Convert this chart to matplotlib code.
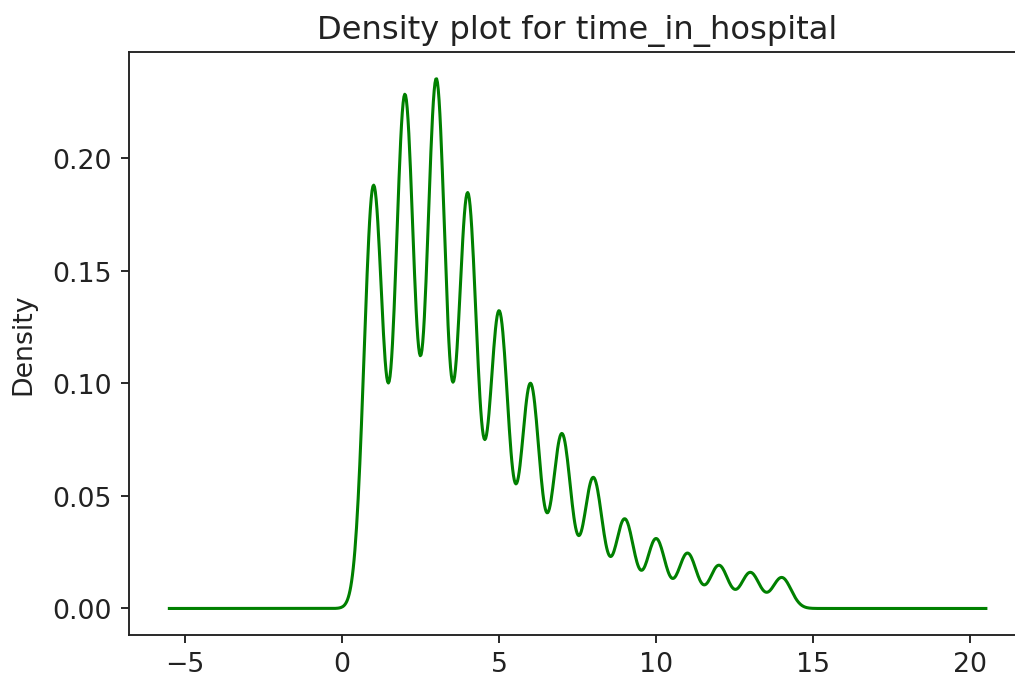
import numpy as np
import matplotlib
matplotlib.use("Agg")
import matplotlib.pyplot as plt

# Length of stay (days) and number of encounters for each value
days = [1, 2, 3, 4, 5, 6, 7, 8, 9, 10, 11, 12, 13, 14]
counts = [14208, 17224, 17756, 13924, 9966, 7539, 5859, 4391,
          3002, 2342, 1855, 1448, 1210, 1042]

values = np.repeat(np.array(days, dtype=float), counts)
n = values.size

# Gaussian KDE with Scott's rule bandwidth
bw = values.std(ddof=1) * n ** (-1.0 / 5.0)
lo, hi = values.min(), values.max()
span = hi - lo
grid = np.linspace(lo - 0.5 * span, hi + 0.5 * span, 1000)

d = np.array(days, dtype=float)
w = np.array(counts, dtype=float) / n
z = (grid[:, None] - d[None, :]) / bw
density = (w[None, :] * np.exp(-0.5 * z ** 2)).sum(axis=1) / (bw * np.sqrt(2 * np.pi))

ink = "#222222"
plt.rcParams.update({
    "font.size": 11.4,
    "text.color": ink,
    "axes.labelcolor": ink,
    "xtick.color": ink,
    "ytick.color": ink,
    "axes.edgecolor": ink,
})

fig = plt.figure(figsize=(6.0, 4.035), dpi=169.2)
# the axes run past the right edge of the canvas
ax = fig.add_axes([128.5 / 1015, 47 / 682, 898 / 1015, 582 / 682])
ax.plot(grid, density, color="green", linewidth=1.3)
ax.set_ylabel("Density", labelpad=7)
ax.set_title("Density plot for time_in_hospital", fontsize=13.7)
fig.savefig("out.png", dpi=169.2)
